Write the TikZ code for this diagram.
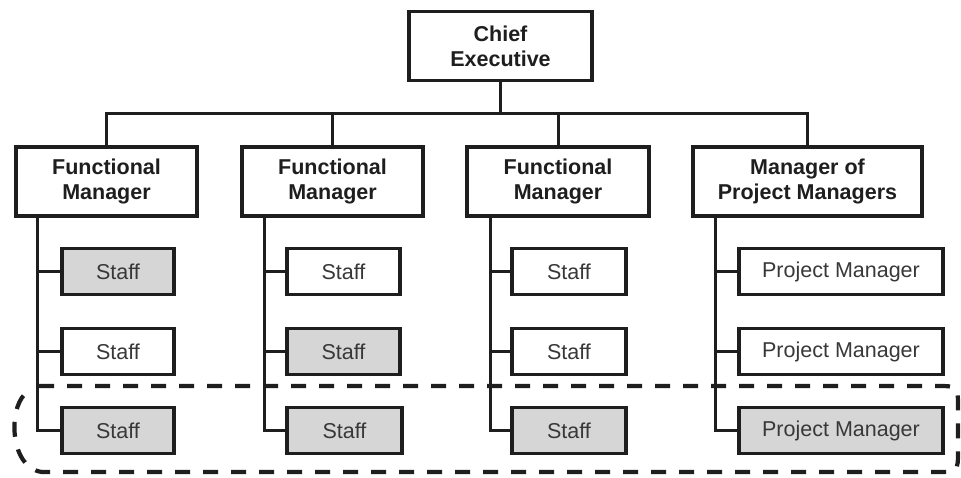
\documentclass[tikz,border=0pt]{standalone}
\usepackage{fontspec}
\setmainfont{Liberation Sans}
\usetikzlibrary{calc}
\definecolor{ink}{HTML}{1E1E1E}
\definecolor{soft}{HTML}{383838}
\definecolor{shade}{HTML}{D6D6D6}
\tikzset{
  head/.style={draw=ink, line width=3.6pt, fill=white, font=\fontsize{21.5}{25}\selectfont\bfseries,
    text=ink, align=center, minimum height=69pt, inner sep=0pt},
  member/.style={draw=ink, line width=3.2pt, fill=white, font=\fontsize{21.5}{25}\selectfont,
    text=soft, minimum height=46pt, inner sep=0pt},
  grey/.style={fill=shade},
  link/.style={draw=ink, line width=3pt},
  dashbox/.style={draw=ink, line width=4.2pt, dash pattern=on 15pt off 13pt},
}
\begin{document}
\begin{tikzpicture}[x=1pt, y=-1pt]
\useasboundingbox (0,0) rectangle (961,477);

% dashed band round the bottom row
\draw[dashbox] (39,386) -- (936,386) .. controls (958,386) .. (958,408)
  -- (958,450) .. controls (958,472) .. (936,472)
  -- (42,472) .. controls (10,468) and (8,410) .. (25,394);

% top level
\node[head, minimum width=183pt] (ce) at (500.5,46) {Chief\\Executive};

% managers
\node[head, minimum width=181pt] (fm1) at (106.5,181.5) {Functional\\Manager};
\node[head, minimum width=181pt] (fm2) at (332.5,181.5) {Functional\\Manager};
\node[head, minimum width=182pt] (fm3) at (558,181.5) {Functional\\Manager};
\node[head, minimum width=229pt] (mpm) at (807.5,181.5) {Manager of\\Project Managers};

% staff, column by column
\node[member, grey, minimum width=112pt] (s11) at (118,271.5) {Staff};
\node[member, minimum width=112pt] (s12) at (118,351.5) {Staff};
\node[member, grey, minimum width=112pt] (s13) at (118,430.5) {Staff};

\node[member, minimum width=113pt] (s21) at (343.5,271.5) {Staff};
\node[member, grey, minimum width=113pt] (s22) at (343.5,351.5) {Staff};
\node[member, grey, minimum width=115pt] (s23) at (344.5,430.5) {Staff};

\node[member, minimum width=114pt] (s31) at (569,271.5) {Staff};
\node[member, minimum width=114pt] (s32) at (569,351.5) {Staff};
\node[member, grey, minimum width=114pt] (s33) at (569,430.5) {Staff};

\node[member, minimum width=204pt] (s41) at (841,271.5) {Project Manager};
\node[member, minimum width=204pt] (s42) at (841,351.5) {Project Manager};
\node[member, grey, minimum width=204pt] (s43) at (841,430.5) {Project Manager};

% reporting lines from the chief executive
\coordinate (bus) at (500.5,113);
\draw[link] (ce.south) -- (bus);
\draw[link] (fm1.north) -- (fm1.north |- bus) -- (mpm.north |- bus) -- (mpm.north);
\draw[link] (fm2.north) -- (fm2.north |- bus);
\draw[link] (fm3.north) -- (fm3.north |- bus);

% spines under each manager
\foreach \m/\c/\dx in {fm1/1/23, fm2/2/24, fm3/3/25, mpm/4/24}{
  \coordinate (sp\c) at ($(\m.south west)+(\dx,0)$);
  \draw[link] (sp\c) |- (s\c3.west);
  \draw[link] (sp\c |- s\c1.west) -- (s\c1.west);
  \draw[link] (sp\c |- s\c2.west) -- (s\c2.west);
}
\end{tikzpicture}
\end{document}
